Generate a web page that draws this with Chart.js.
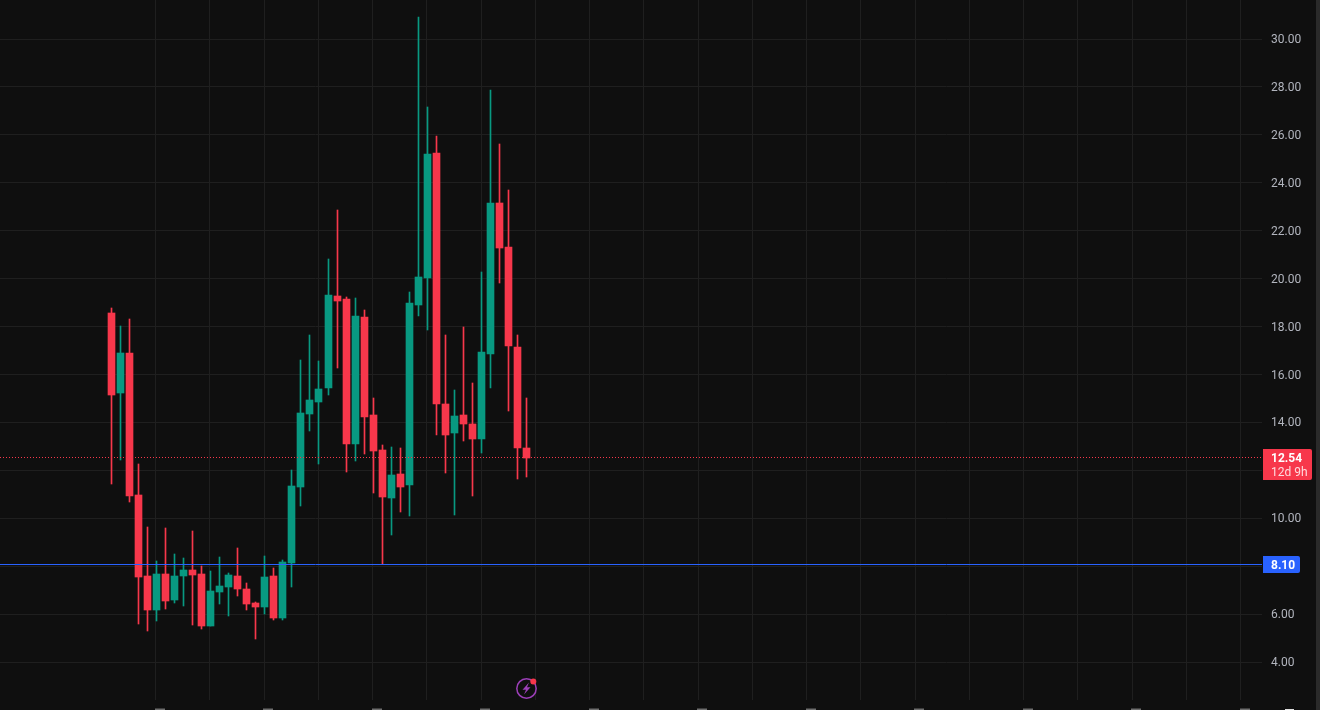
<!DOCTYPE html>
<html>
<head>
<meta charset="utf-8">
<title>Candles</title>
<script src="https://cdn.jsdelivr.net/npm/chart.js"></script>
<style>
html, body { margin: 0; padding: 0; background: #0f0f0f; overflow: hidden; }
#wrap { position: relative; width: 1316px; height: 710px; }
#strip { position: absolute; left: 1316px; top: 0; width: 4px; height: 710px; background: #2a2a2a; }
#bolt { position: absolute; left: 514px; top: 676px; }
</style>
</head>
<body>
<div id="wrap"><canvas id="chart" width="1316" height="710"></canvas></div>
<div id="strip"></div>
<svg id="bolt" width="26" height="26" viewBox="0 0 26 26">
  <circle cx="12.5" cy="12.5" r="9.7" fill="none" stroke="#9c3fb8" stroke-width="1.5"/>
  <path d="M15 6.5 L8.5 13.8 L12 13.8 L10 18.5 L16.5 11.2 L13 11.2 Z" fill="#9c3fb8"/>
  <circle cx="19.3" cy="5.5" r="3" fill="#f7374b"/>
</svg>
<script>
// candles, left to right
const opens = [18.57, 15.23, 16.90, 10.97, 7.59, 6.17, 7.67, 6.59, 7.59, 7.84, 7.67, 5.50, 6.92, 7.13, 7.59, 7.05, 6.47, 6.30, 7.59, 5.84, 8.13, 11.31, 14.35, 14.85, 15.44, 19.28, 19.15, 13.10, 18.40, 14.31, 12.85, 10.85, 11.85, 11.39, 18.90, 20.03, 25.25, 14.77, 13.56, 14.31, 13.94, 13.31, 16.86, 23.16, 21.32, 17.15, 12.93];
const closes = [15.15, 16.90, 10.93, 7.55, 6.17, 7.67, 6.55, 7.59, 7.84, 7.63, 5.50, 6.97, 7.17, 7.63, 7.05, 6.42, 6.30, 7.55, 5.84, 8.18, 11.35, 14.40, 14.94, 15.40, 19.32, 19.07, 13.10, 18.44, 14.23, 12.81, 10.89, 11.81, 11.31, 18.99, 20.07, 25.20, 14.77, 13.48, 14.27, 13.94, 13.31, 16.94, 23.16, 21.28, 17.19, 12.93, 12.52];
const highs = [18.78, 18.03, 18.32, 12.27, 9.64, 8.22, 9.60, 8.51, 8.34, 9.47, 8.01, 7.80, 8.38, 7.72, 8.76, 7.30, 6.51, 8.43, 7.93, 8.26, 12.02, 16.61, 17.65, 16.57, 20.82, 22.87, 19.24, 19.19, 18.69, 15.02, 13.06, 12.98, 12.93, 19.45, 30.92, 27.17, 25.96, 17.65, 15.35, 17.98, 15.65, 20.28, 27.88, 25.62, 23.70, 17.65, 15.02];
const lows = [11.43, 12.43, 10.68, 5.59, 5.30, 5.71, 6.21, 6.47, 6.34, 5.55, 5.38, 5.50, 6.42, 5.92, 6.76, 6.17, 4.96, 6.00, 5.75, 5.75, 7.13, 10.51, 13.64, 12.27, 15.15, 16.27, 11.93, 12.39, 12.68, 11.06, 8.09, 9.30, 10.26, 10.10, 18.44, 17.86, 13.48, 11.89, 10.14, 13.23, 10.93, 12.72, 15.44, 19.82, 14.48, 11.64, 11.72];
const lastPrice = 12.54;
const lastPriceCountdown = '12d 9h';
const alertPrice = 8.10;
const priceTicks = [4, 6, 8, 10, 12, 14, 16, 18, 20, 22, 24, 26, 28, 30];

const UP = '#089981';
const DOWN = '#f7374b';
const GRID = '#1f1f1f';
const candleNo = opens.map((_, i) => i + 1);
const candleColors = opens.map((o, i) => closes[i] >= o ? UP : DOWN);

const xMin = -11.23, xMax = 128.372;

// candles and price lines sit on whole pixels, otherwise the 1px strokes go soft
const snapCandles = {
    id: 'snapCandles',
    beforeDatasetsDraw(chart) {
        [0, 1].forEach((d) => {
            chart.getDatasetMeta(d).data.forEach((bar) => {
                bar.x = Math.round(bar.x) + 0.5;
                bar.y = Math.round(bar.y);
                bar.base = Math.round(bar.base);
            });
        });
        [2, 3].forEach((d) => {
            chart.getDatasetMeta(d).data.forEach((pt) => {
                pt.y = Math.round(pt.y) + 0.5;
            });
        });
    }
};

// badges on the price axis + tops of the cut off time labels
const priceBadges = {
    id: 'priceBadges',
    afterDraw(chart) {
        const { ctx, scales, chartArea } = chart;
        const left = chartArea.right + 1;
        ctx.save();
        ctx.textBaseline = 'middle';
        ctx.textAlign = 'left';

        let y = Math.round(scales.y.getPixelForValue(lastPrice));
        ctx.fillStyle = DOWN;
        ctx.beginPath();
        ctx.roundRect(left, y - 8, 49, 31, [0, 2, 2, 0]);
        ctx.fill();
        ctx.fillStyle = '#ffffff';
        ctx.font = 'bold 12px Roboto, sans-serif';
        ctx.fillText(lastPrice.toFixed(2), left + 8, y + 1.5);
        ctx.fillStyle = '#ffd9dd';
        ctx.font = '12px Roboto, sans-serif';
        ctx.fillText(lastPriceCountdown, left + 8, y + 15.5);

        y = Math.round(scales.y.getPixelForValue(alertPrice));
        ctx.fillStyle = '#2962ff';
        ctx.beginPath();
        ctx.roundRect(left, y - 8, 37, 17, [0, 2, 2, 0]);
        ctx.fill();
        ctx.fillStyle = '#ffffff';
        ctx.font = 'bold 12px Roboto, sans-serif';
        ctx.fillText(alertPrice.toFixed(2), left + 8, y + 1.5);

        ctx.fillStyle = '#6e6e6e';
        scales.x.ticks.forEach((t) => {
            if (t.value >= 6 && (t.value - 6) % 12 === 0) {
                ctx.fillRect(Math.round(scales.x.getPixelForValue(t.value)) - 1, 708.5, 10, 1.5);
            }
        });
        ctx.fillStyle = '#e0e0e0';
        ctx.fillRect(1285, 709, 9, 1);
        ctx.restore();
    }
};

new Chart(document.getElementById('chart').getContext('2d'), {
    data: {
        datasets: [
            {
                type: 'bar',
                label: 'wick',
                data: candleNo.map((n, i) => ({ x: n, y: [lows[i], highs[i]] })),
                backgroundColor: candleColors,
                barThickness: 1,
                grouped: false,
                order: 3
            },
            {
                type: 'bar',
                label: 'body',
                data: candleNo.map((n, i) => ({ x: n, y: [opens[i], closes[i]] })),
                backgroundColor: candleColors,
                barThickness: 7,
                grouped: false,
                order: 2
            },
            {
                type: 'line',
                label: 'last',
                data: [{ x: xMin, y: lastPrice }, { x: xMax, y: lastPrice }],
                borderColor: '#f7374b',
                borderWidth: 1,
                borderDash: [1, 2],
                pointRadius: 0,
                order: 1
            },
            {
                type: 'line',
                label: 'alert',
                data: [{ x: xMin, y: alertPrice }, { x: xMax, y: alertPrice }],
                borderColor: '#2962ff',
                borderWidth: 1,
                pointRadius: 0,
                order: 0
            }
        ]
    },
    options: {
        responsive: false,
        animation: false,
        layout: { padding: 0 },
        plugins: { legend: { display: false }, tooltip: { enabled: false } },
        scales: {
            x: {
                type: 'linear',
                offset: false,
                min: xMin,
                max: xMax,
                afterFit: (s) => { s.height = 10; s.paddingLeft = 0; s.paddingRight = 0; },
                border: { display: false },
                grid: {
                    offset: false,
                    color: (c) => c.tick && c.tick.value >= 6 ? GRID : 'transparent',
                    drawTicks: false
                },
                ticks: { stepSize: 6, includeBounds: false, display: false }
            },
            y: {
                position: 'right',
                min: 2.416,
                max: 31.63,
                afterFit: (s) => { s.width = 54; s.paddingTop = 0; s.paddingBottom = 0; },
                afterBuildTicks: (s) => { s.ticks = priceTicks.map((v) => ({ value: v })); },
                border: { display: false },
                grid: { color: GRID, drawTicks: false },
                ticks: {
                    color: '#b2b5be',
                    font: { family: 'Roboto, sans-serif', size: 12 },
                    padding: 9,
                    labelOffset: 1,
                    callback: (v) => v.toFixed(2)
                }
            }
        }
    },
    plugins: [snapCandles, priceBadges]
});
</script>
</body>
</html>
